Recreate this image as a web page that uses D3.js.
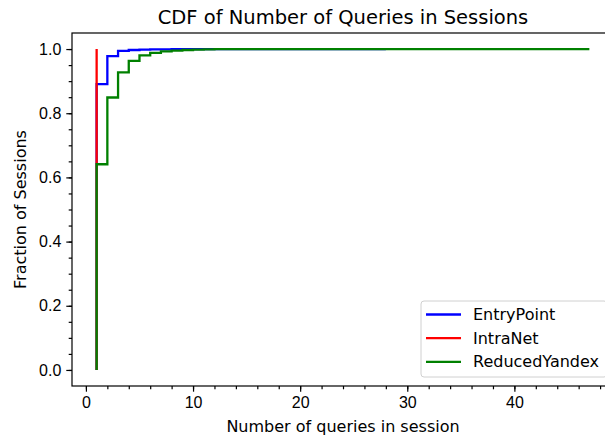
<!DOCTYPE html>
<html>
<head>
<meta charset="utf-8">
<script src="https://cdn.jsdelivr.net/npm/d3@7"></script>
<style>
  body { margin: 0; background: #fff; }
  svg { font-family: "DejaVu Sans", sans-serif; display: block; }
</style>
</head>
<body>
<svg></svg>
<script>
// Data (queries per session -> cumulative fraction)
const entryX = [1, 1, 2, 3, 4, 5, 6, 8, 10, 28];
const entryY = [0, 0.891, 0.978, 0.994, 0.997, 0.998, 0.999, 0.9995, 1.0, 1.0];

const intraX = [1, 1];
const intraY = [0, 1.0];

const yandexX = [1, 1, 2, 3, 4, 5, 6, 7, 8, 9, 10, 11, 12, 47];
const yandexY = [0, 0.641, 0.849, 0.927, 0.963, 0.980, 0.988, 0.993, 0.995, 0.997, 0.998, 0.999, 1.0, 1.0];

const seriesNames = ["EntryPoint", "IntraNet", "ReducedYandex"];
const seriesColors = ["blue", "red", "green"];

const xTicks = [0, 10, 20, 30, 40];
const yTicks = [0.0, 0.2, 0.4, 0.6, 0.8, 1.0];

let width = 605, height = 437;
let margin = { top: 33, bottom: 51, left: 72, right: -9 };

let svg = d3.select('svg')
    .attr('width', width)
    .attr('height', height)
    .style('overflow', 'hidden');

let xScale = d3.scaleLinear()
    .domain([1 - 2.3, 47 + 2.3])
    .range([margin.left, width - margin.right]);

let yScale = d3.scaleLinear()
    .domain([-0.05, 1.05])
    .range([height - margin.bottom, margin.top]);

// minor ticks
svg.append('g')
    .attr('transform', `translate(0, ${height - margin.bottom})`)
    .call(d3.axisBottom(xScale).tickValues(d3.range(0, 50, 2)).tickSize(3.3).tickFormat(''))
    .call(g => g.select('.domain').remove());
svg.append('g')
    .attr('transform', `translate(${margin.left}, 0)`)
    .call(d3.axisLeft(yScale).tickValues(d3.range(0, 1.001, 0.05)).tickSize(3.3).tickFormat(''))
    .call(g => g.select('.domain').remove());

// major ticks
let xAxis = svg.append('g')
    .attr('transform', `translate(0, ${height - margin.bottom})`)
    .call(d3.axisBottom(xScale).tickValues(xTicks).tickSize(5.7).tickPadding(5).tickFormat(d3.format('d')));
xAxis.select('.domain').remove();

let yAxis = svg.append('g')
    .attr('transform', `translate(${margin.left}, 0)`)
    .call(d3.axisLeft(yScale).tickValues(yTicks).tickSize(5.7).tickPadding(5).tickFormat(d3.format('.1f')));
yAxis.select('.domain').remove();

svg.selectAll('.tick text').style('font-size', '16px').attr('fill', '#000');
svg.selectAll('.tick line').attr('stroke', '#000').attr('stroke-width', 1.2);

// lines
let lineGen = d3.line()
    .x(d => xScale(d[0]))
    .y(d => yScale(d[1]))
    .curve(d3.curveStepAfter);

let allSeries = [
    d3.zip(entryX, entryY),
    d3.zip(intraX, intraY),
    d3.zip(yandexX, yandexY)
];

svg.selectAll('path.series')
    .data(allSeries)
    .enter()
    .append('path')
    .attr('class', 'series')
    .attr('d', lineGen)
    .attr('fill', 'none')
    .attr('stroke', (d, i) => seriesColors[i])
    .attr('stroke-width', 2.3);

// frame
svg.append('rect')
    .attr('x', margin.left)
    .attr('y', margin.top)
    .attr('width', xScale.range()[1] - margin.left)
    .attr('height', height - margin.bottom - margin.top)
    .attr('fill', 'none')
    .attr('stroke', '#000')
    .attr('stroke-width', 1.2);

// title and labels
svg.append('text')
    .attr('x', 343)
    .attr('y', 24)
    .attr('text-anchor', 'middle')
    .style('font-size', '19.5px')
    .text('CDF of Number of Queries in Sessions');

svg.append('text')
    .attr('x', 343)
    .attr('y', 432)
    .attr('text-anchor', 'middle')
    .style('font-size', '16px')
    .text('Number of queries in session');

svg.append('text')
    .attr('transform', `translate(26, ${(margin.top + height - margin.bottom) / 2}) rotate(-90)`)
    .attr('text-anchor', 'middle')
    .style('font-size', '16px')
    .text('Fraction of Sessions');

// legend
let legend = svg.append('g').attr('transform', 'translate(421, 301)');
legend.append('rect')
    .attr('width', 186)
    .attr('height', 76)
    .attr('rx', 3)
    .attr('fill', '#fff')
    .attr('fill-opacity', 0.8)
    .attr('stroke', '#d0d0d0');

seriesNames.forEach(function(name, i) {
    let y = 13.5 + i * 23.7;
    legend.append('line')
        .attr('x1', 5).attr('x2', 40)
        .attr('y1', y).attr('y2', y)
        .attr('stroke', seriesColors[i])
        .attr('stroke-width', 2.3);
    legend.append('text')
        .attr('x', 52)
        .attr('y', y + 5.5)
        .style('font-size', '16px')
        .text(name);
});
</script>
</body>
</html>
